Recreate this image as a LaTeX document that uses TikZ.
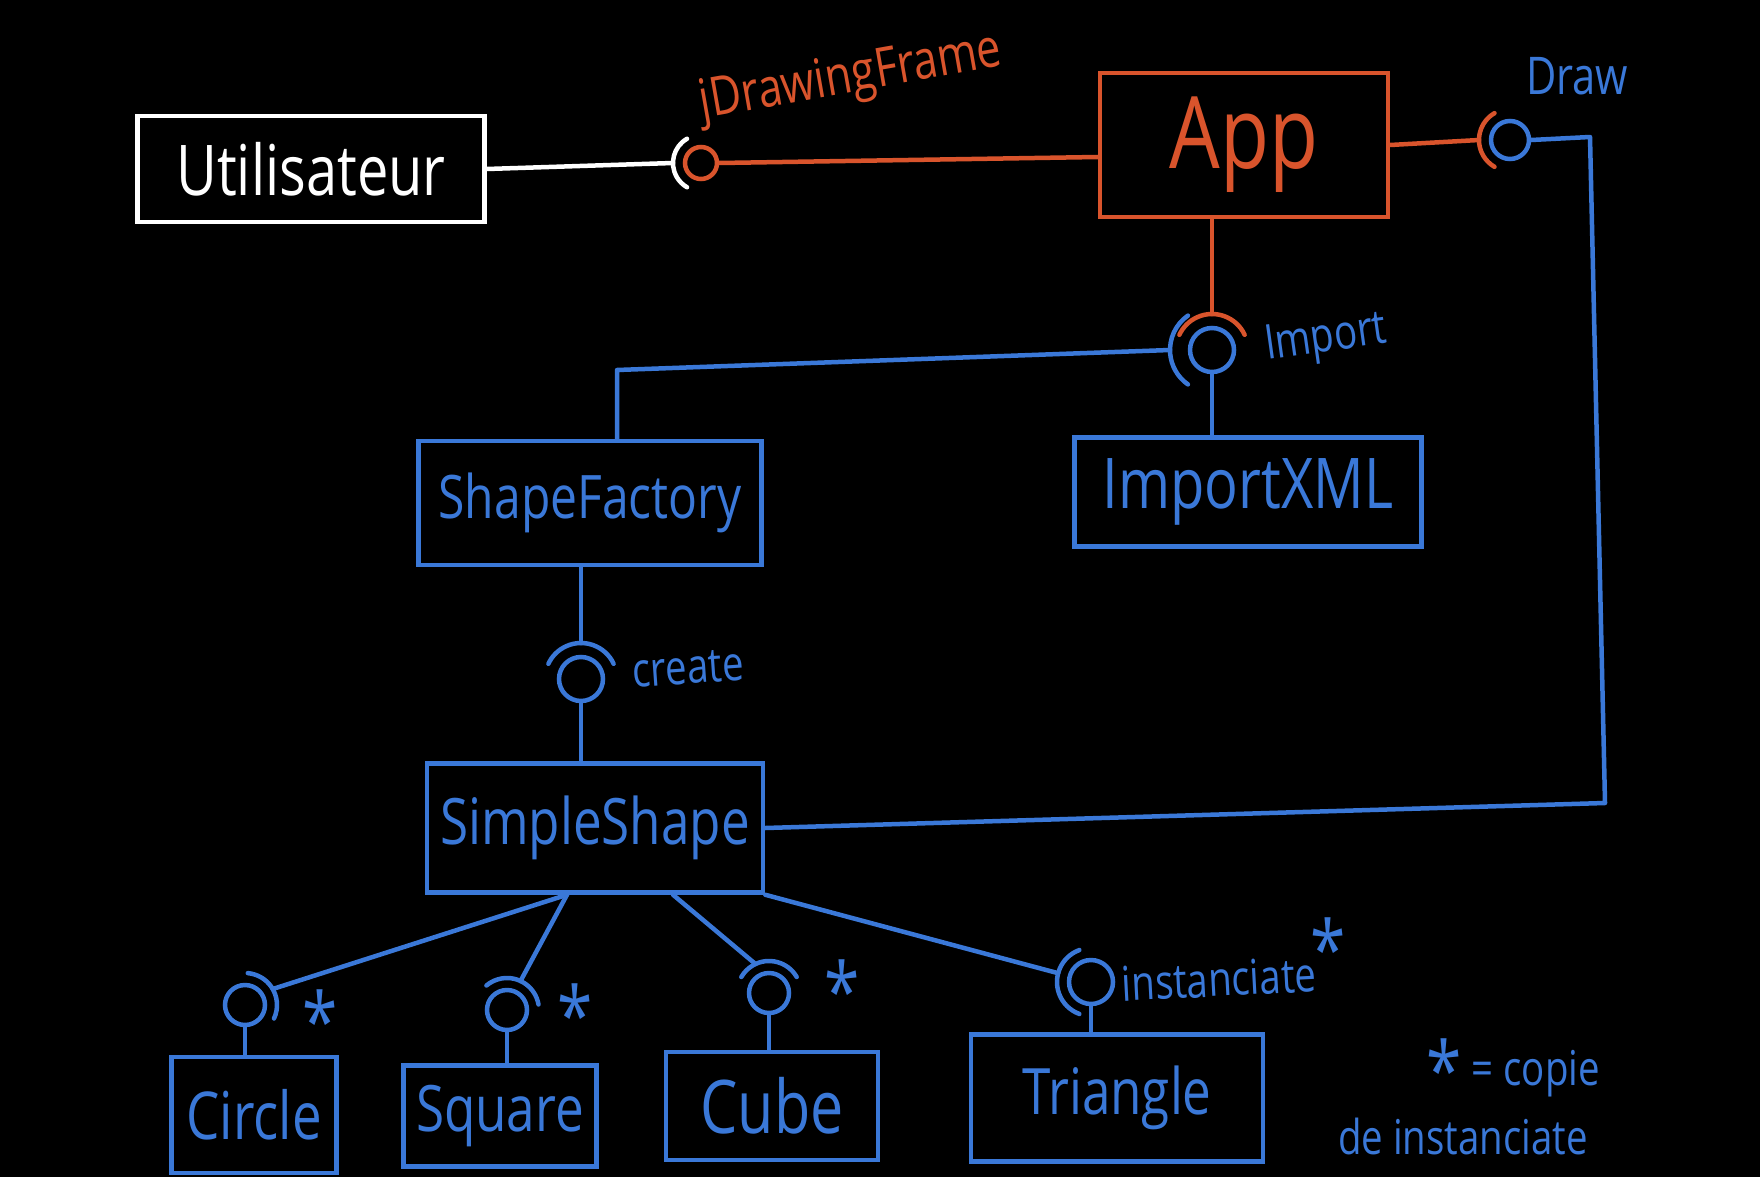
\documentclass[tikz,border=0pt]{standalone}
\usepackage{fontspec}
\setmainfont{Open Sans}[FakeStretch=0.8]

\definecolor{inkblue}{RGB}{58,120,216}
\definecolor{inkred}{RGB}{217,84,44}

\tikzset{
	box/.style={draw=#1, text=#1, line width=4.5pt, inner sep=0pt, font=\fontsize{64}{70}\selectfont},
	ball/.style={draw=#1, circle, line width=4.5pt, inner sep=0pt, minimum size=40pt},
	wire/.style={draw=#1, line width=4.5pt, line cap=round, line join=round},
	note/.style={text=#1, inner sep=0pt, font=\fontsize{48}{54}\selectfont},
	star/.style={text=#1, inner sep=0pt, anchor=north, font=\fontsize{80}{86}\selectfont}
}

\begin{document}
\begin{tikzpicture}[x=1pt, y=-1pt]
	\fill[black] (0,0) rectangle (1760,1177);

	% boxes
	\node[box=white, minimum width=347pt, minimum height=106pt, font=\fontsize{70}{76}\selectfont] (util) at (311,169) {Utilisateur};
	\node[box=inkred, minimum width=288pt, minimum height=144pt, font=\fontsize{100}{110}\selectfont] (app) at (1244,145) {App};
	\node[box=inkblue, minimum width=343pt, minimum height=124pt, font=\fontsize{60}{66}\selectfont] (fact) at (590,503) {ShapeFactory};
	\node[box=inkblue, minimum width=347pt, minimum height=109pt, font=\fontsize{70}{76}\selectfont] (ixml) at (1248,492) {ImportXML};
	\node[box=inkblue, minimum width=336pt, minimum height=129pt] (simple) at (595,828) {SimpleShape};
	\node[box=inkblue, minimum width=165pt, minimum height=116pt, font=\fontsize{66}{72}\selectfont] (circ) at (254,1115) {Circle};
	\node[box=inkblue, minimum width=193pt, minimum height=101pt] (squ) at (500,1116) {Square};
	\node[box=inkblue, minimum width=212pt, minimum height=108pt, font=\fontsize{74}{80}\selectfont] (cube) at (772,1106) {Cube};
	\node[box=inkblue, minimum width=292pt, minimum height=127pt] (tri) at (1117,1098) {Triangle};

	% interfaces
	\node[ball=inkred, minimum size=32pt] (jdf) at (701,163) {};
	\node[ball=inkblue, minimum size=38pt] (drw) at (1510,140) {};
	\node[ball=inkblue, minimum size=44pt] (imp) at (1212,350) {};
	\node[ball=inkblue, minimum size=44pt] (crt) at (581,679) {};
	\node[ball=inkblue] (icirc) at (245,1005) {};
	\node[ball=inkblue] (isqu) at (507,1010) {};
	\node[ball=inkblue] (icube) at (769,993) {};
	\node[ball=inkblue, minimum size=44pt] (itri) at (1091,982) {};

	% labels
	\node[note=inkred, rotate=10, font=\fontsize{54}{60}\selectfont] (ljdf) at (851,79) {jDrawingFrame};
	\node[note=inkblue, font=\fontsize{52}{58}\selectfont] (ldrw) at (1577,76) {Draw};
	\node[note=inkblue, rotate=8] (limp) at (1326,340) {Import};
	\node[note=inkblue, rotate=4] (lcrt) at (688,668) {create};
	\node[note=inkblue, rotate=3] (ltri) at (1219,979) {instanciate};
	\node[star=inkblue] (scirc) at (320,990) {*};
	\node[star=inkblue] (ssqu) at (575,984) {*};
	\node[star=inkblue] (scube) at (842,960) {*};
	\node[star=inkblue] (stri) at (1328,918) {*};
	\node[note=inkblue, anchor=east] (key1) at (1600,1069) {\raisebox{-14pt}{\fontsize{80}{80}\selectfont *} = copie};
	\node[note=inkblue, anchor=east] (key2) at (1588,1136) {de instanciate};

	% sockets
	\draw[wire=white] ([shift={(120:28pt)}]jdf.center) arc (120:240:28pt);
	\draw[wire=inkred] ([shift={(120:31pt)}]drw.center) arc (120:240:31pt);
	\draw[wire=inkred] ([shift={(25:36pt)}]imp.center) arc (25:155:36pt);
	\draw[wire=inkblue] ([shift={(125:42pt)}]imp.center) arc (125:235:42pt);
	\draw[wire=inkblue] ([shift={(25:36pt)}]crt.center) arc (25:155:36pt);
	\draw[wire=inkblue] ([shift={(-25:32pt)}]icirc.center) arc (-25:85:32pt);
	\draw[wire=inkblue] ([shift={(10:32pt)}]isqu.center) arc (10:130:32pt);
	\draw[wire=inkblue] ([shift={(30:32pt)}]icube.center) arc (30:150:32pt);
	\draw[wire=inkblue] ([shift={(110:34pt)}]itri.center) arc (110:250:34pt);

	% connectors
	\coordinate (dr1) at (1590,137);
	\coordinate (dr2) at (1605,803);
	\coordinate (fk) at (617,370);
	\draw[wire=white] (util.east) -- ([shift={(180:28pt)}]jdf.center);
	\draw[wire=inkred] (jdf.east) -- ([yshift=-12pt]app.west);
	\draw[wire=inkred] (app.east) -- ([shift={(180:31pt)}]drw.center);
	\draw[wire=inkred] (app.south -| imp.north) -- ([shift={(90:36pt)}]imp.center);
	\draw[wire=inkblue] (drw.east) -- (dr1) -- (dr2) -- (simple.east);
	\draw[wire=inkblue] ([shift={(180:42pt)}]imp.center) -- (fk) -- (fk |- fact.north);
	\draw[wire=inkblue] (imp.south) -- (imp.south |- ixml.north);
	\draw[wire=inkblue] (fact.south -| crt.north) -- ([shift={(90:36pt)}]crt.center);
	\draw[wire=inkblue] (crt.south) -- (crt.south |- simple.north);
	\draw[wire=inkblue] ([xshift=-28pt]simple.south) -- ([shift={(30:32pt)}]icirc.center);
	\draw[wire=inkblue] ([xshift=-28pt]simple.south) -- ([shift={(65:32pt)}]isqu.center);
	\draw[wire=inkblue] ([xshift=78pt]simple.south) -- ([shift={(115:32pt)}]icube.center);
	\draw[wire=inkblue] (simple.south east) -- ([shift={(165:34pt)}]itri.center);
	\draw[wire=inkblue] (icirc.south) -- (icirc.south |- circ.north);
	\draw[wire=inkblue] (isqu.south) -- (isqu.south |- squ.north);
	\draw[wire=inkblue] (icube.south) -- (icube.south |- cube.north);
	\draw[wire=inkblue] (itri.south) -- (itri.south |- tri.north);
\end{tikzpicture}
\end{document}
